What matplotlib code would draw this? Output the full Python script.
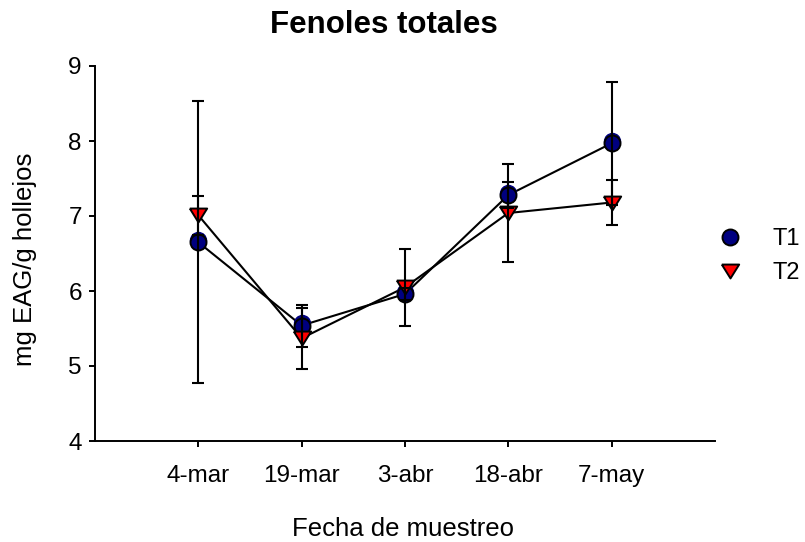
import matplotlib
import matplotlib.pyplot as plt
from matplotlib.lines import Line2D
from matplotlib.transforms import offset_copy

matplotlib.use('Agg')
plt.rcParams['font.family'] = ['Liberation Sans', 'DejaVu Sans']

# fechas de muestreo y medias +/- error
fechas = ['4-mar', '19-mar', '3-abr', '18-abr', '7-may']
t1 = [6.65, 5.54, 5.96, 7.28, 7.97]
t1_err = [1.88, 0.28, 0.08, 0.17, 0.82]
t2 = [7.01, 5.37, 6.05, 7.04, 7.18]
t2_err = [0.26, 0.41, 0.51, 0.65, 0.30]

x = list(range(1, len(fechas) + 1))

# triangulo invertido algo mas ancho que alto
tri_down = [(-1, 0.8), (1, 0.8), (0, -0.8), (-1, 0.8)]

fig = plt.figure(figsize=(8.05, 5.42), dpi=100)
ax = fig.add_axes([95 / 805, 101 / 542, 620 / 805, 375 / 542])

ax.plot(x, t1, color='black', lw=1.5, zorder=2)
ax.plot(x, t2, color='black', lw=1.5, zorder=2)

# simbolo T1 doble (sombra desplazada hacia arriba)
shadow = offset_copy(ax.transData, fig=fig, x=0, y=2.5, units='dots')
ax.plot(x, t1, ls='none', marker='o', ms=11.5, mfc='#000080', mec='#000080',
        transform=shadow, zorder=3)
ax.plot(x, t1, ls='none', marker='o', ms=11.5, mfc='#000080', mec='black',
        mew=1.4, zorder=3.1)
ax.plot(x, t2, ls='none', marker=tri_down, ms=12.5, mfc='red', mec='black',
        mew=1.4, zorder=4)

ax.errorbar(x, t1, yerr=t1_err, fmt='none', ecolor='black', elinewidth=1.5,
            capsize=4.5, capthick=1.5, zorder=5)
ax.errorbar(x, t2, yerr=t2_err, fmt='none', ecolor='black', elinewidth=1.5,
            capsize=4.5, capthick=1.5, zorder=5)

ax.set_xlim(0, 6)
ax.set_ylim(4, 9)
ax.set_xticks(x)
ax.set_xticklabels(fechas)
ax.set_yticks([4, 5, 6, 7, 8, 9])

for side in ['top', 'right']:
    ax.spines[side].set_visible(False)
for side in ['left', 'bottom']:
    ax.spines[side].set_linewidth(1.4)

ax.tick_params(axis='both', direction='out', length=4.5, width=1.4,
               labelsize=17.5, colors='black')
ax.tick_params(axis='x', pad=13)
ax.tick_params(axis='y', pad=5)

ax.set_xlabel('Fecha de muestreo', fontsize=18.5)
ax.xaxis.set_label_coords(0.496, -0.203)
ax.set_ylabel('mg EAG/g hollejos', fontsize=18.5)
ax.yaxis.set_label_coords(-0.093, 0.485)

fig.text(384 / 805, 509 / 542, 'Fenoles totales', fontsize=22.5,
         fontweight='bold', ha='center', va='baseline')

handles = [
    Line2D([], [], ls='none', marker='o', ms=11.5, mfc='#000080', mec='black', mew=1.4),
    Line2D([], [], ls='none', marker=tri_down, ms=12.5, mfc='red', mec='black', mew=1.4),
]
fig.legend(handles, ['T1', 'T2'], loc='center left', frameon=False,
           bbox_to_anchor=(697 / 805, 0.527), borderaxespad=0,
           fontsize=17, handlelength=2.0, handletextpad=0.8, labelspacing=0.5)

fig.savefig('out.png', dpi=100)
